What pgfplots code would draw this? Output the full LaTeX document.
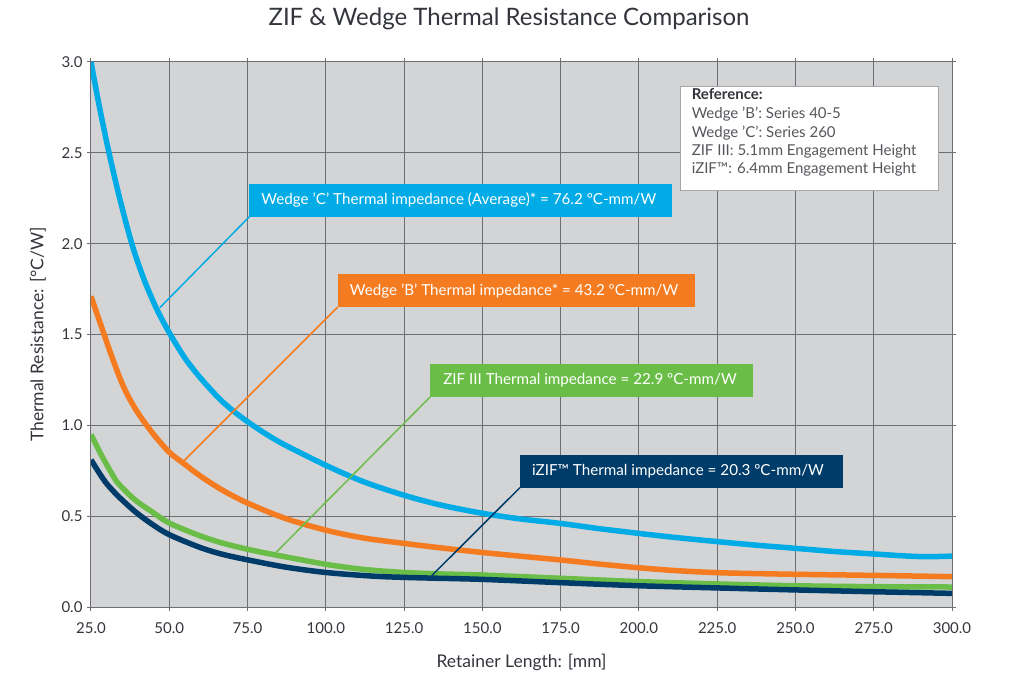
\documentclass[border=0pt]{standalone}
\usepackage{pgfplots}
\pgfplotsset{compat=1.18}
\usepackage{fontspec}
\setmainfont{Lato}
\definecolor{bggray}{RGB}{211,212,214}
\definecolor{gridgray}{RGB}{110,111,114}
\definecolor{txtgray}{RGB}{51,53,60}
\definecolor{refgray}{RGB}{85,87,92}
\definecolor{cblue}{RGB}{0,171,230}
\definecolor{corange}{RGB}{244,123,32}
\definecolor{cgreen}{RGB}{106,190,72}
\definecolor{cnavy}{RGB}{0,60,105}
\newcommand{\fs}[1]{\fontsize{#1}{#1}\selectfont}
\begin{document}
\begin{tikzpicture}
\path[use as bounding box] (-91bp,-68bp) rectangle (932bp,607bp);
\begin{axis}[
  at={(0,0)}, anchor=south west,
  scale only axis, width=861bp, height=545bp,
  xmin=25, xmax=300, ymin=0, ymax=3,
  xtick={25,50,75,100,125,150,175,200,225,250,275,300},
  ytick={0,0.5,1,1.5,2,2.5,3},
  axis background/.style={fill=bggray},
  axis line style={draw=none},
  grid=major,
  major grid style={draw=gridgray, line width=1bp},
  tick style={draw=gridgray, line width=1bp},
  tick align=outside, major tick length=4bp,
  /pgf/number format/.cd, fixed, fixed zerofill, precision=1, assume math mode=true,
  /pgfplots/.cd,
  ticklabel style={font=\fs{15bp}, text=txtgray},
  xticklabel style={yshift=-8bp},
  yticklabel style={xshift=-1bp},
  xlabel={Retainer Length: [mm]},
  ylabel={Thermal Resistance: [°C/W]},
  xlabel style={font=\fs{17.5bp}, text=txtgray, at={(axis description cs:0.5,-0.101)}, anchor=center},
  ylabel style={font=\fs{17.5bp}, text=txtgray, at={(axis description cs:-0.0616,0.5)}, anchor=center},
  title={ZIF \& Wedge Thermal Resistance Comparison},
  title style={font=\fs{24bp}, text=txtgray, at={(axis description cs:0.4855,1.068)}, anchor=center},
  clip=true,
]
% Wedge C
\addplot[cblue, line width=5.5bp, smooth, tension=0.5] coordinates {
(25,3.0)(27.5,2.77)(30.75,2.5)(34.3,2.24)(38.2,1.99)(42,1.80)(46,1.64)(50,1.51)(55,1.37)(60,1.26)(67,1.13)(75,1.02)(85,0.91)(100,0.78)(112,0.69)(125,0.615)(137,0.56)(150,0.516)(162,0.485)(175,0.46)(187,0.432)(200,0.405)(212,0.382)(225,0.36)(237,0.341)(250,0.323)(262,0.306)(275,0.292)(285,0.281)(292,0.277)(300,0.28)};
% Wedge B
\addplot[corange, line width=5.5bp, smooth, tension=0.5] coordinates {
(25,1.71)(28,1.56)(31,1.41)(34,1.27)(36,1.19)(38,1.125)(40.7,1.05)(45,0.95)(50,0.852)(55,0.785)(60,0.72)(67,0.643)(75,0.572)(87,0.488)(100,0.423)(112,0.38)(125,0.35)(137,0.325)(150,0.30)(162,0.28)(175,0.259)(187,0.237)(200,0.216)(212,0.20)(225,0.189)(237,0.184)(250,0.18)(275,0.174)(300,0.167)};
% ZIF III
\addplot[cgreen, line width=5.5bp, smooth, tension=0.5] coordinates {
(25,0.95)(28.5,0.83)(31.6,0.736)(33.7,0.68)(39.1,0.589)(44.4,0.525)(50,0.462)(59.8,0.392)(67,0.352)(75.2,0.317)(83.8,0.287)(100,0.235)(112,0.207)(125,0.19)(137,0.182)(150,0.176)(175,0.158)(200,0.14)(225,0.127)(250,0.117)(275,0.112)(300,0.11)};
% iZIF
\addplot[cnavy, line width=5.5bp, smooth, tension=0.5] coordinates {
(25,0.81)(29.5,0.69)(33.7,0.61)(39.1,0.525)(44.4,0.457)(50,0.398)(59.8,0.328)(67,0.29)(75.2,0.259)(87,0.22)(100,0.19)(115,0.17)(125,0.163)(133.8,0.159)(150,0.152)(175,0.134)(200,0.117)(225,0.105)(250,0.094)(275,0.084)(300,0.075)};
% connectors
\draw[cblue, line width=1.5bp] (axis cs:75.56,2.148) -- (axis cs:47,1.648);
\draw[corange, line width=1.5bp] (axis cs:103.8,1.651) -- (axis cs:54.4,0.80);
\draw[cgreen, line width=1.5bp] (axis cs:133.3,1.156) -- (axis cs:83.8,0.295);
\draw[cnavy, line width=1.5bp] (axis cs:162.0,0.657) -- (axis cs:133.8,0.172);
% boxes
\fill[cblue] (axis cs:75.56,2.148) rectangle (axis cs:210.5,2.328);
\node[anchor=west, text=white, font=\fs{15.2bp}, inner sep=0pt] at ([xshift=12bp]axis cs:75.56,2.238) {Wedge 'C' Thermal impedance (Average)* = 76.2 ºC-mm/W};
\fill[corange] (axis cs:103.8,1.651) rectangle (axis cs:217.9,1.831);
\node[anchor=west, text=white, font=\fs{15.2bp}, inner sep=0pt] at ([xshift=12bp]axis cs:103.8,1.741) {Wedge 'B' Thermal impedance* = 43.2 ºC-mm/W};
\fill[cgreen] (axis cs:133.3,1.156) rectangle (axis cs:236.3,1.336);
\node[anchor=west, text=white, font=\fs{15.2bp}, inner sep=0pt] at ([xshift=13bp]axis cs:133.3,1.246) {ZIF III Thermal impedance = 22.9 ºC-mm/W};
\fill[cnavy] (axis cs:162.0,0.657) rectangle (axis cs:265.1,0.837);
\node[anchor=west, text=white, font=\fs{15.2bp}, inner sep=0pt] at ([xshift=12bp]axis cs:162.0,0.747) {iZIF™ Thermal impedance = 20.3 ºC-mm/W};
% reference box
\filldraw[fill=white, draw=gray!70, line width=1bp] (axis cs:213.3,2.295) rectangle (axis cs:295.6,2.864);
\node[anchor=base west, inner sep=0pt, font=\bfseries\fs{15bp}, text=txtgray] at ([xshift=11bp]axis cs:213.3,2.791) {Reference:};
\node[anchor=base west, inner sep=0pt, font=\fs{15bp}, text=refgray] at ([xshift=11bp]axis cs:213.3,2.689) {Wedge 'B': Series 40-5};
\node[anchor=base west, inner sep=0pt, font=\fs{15bp}, text=refgray] at ([xshift=11bp]axis cs:213.3,2.587) {Wedge 'C': Series 260};
\node[anchor=base west, inner sep=0pt, font=\fs{15bp}, text=refgray] at ([xshift=11bp]axis cs:213.3,2.485) {ZIF III: 5.1mm Engagement Height};
\node[anchor=base west, inner sep=0pt, font=\fs{15bp}, text=refgray] at ([xshift=11bp]axis cs:213.3,2.384) {iZIF™: 6.4mm Engagement Height};
\end{axis}
\end{tikzpicture}
\end{document}
